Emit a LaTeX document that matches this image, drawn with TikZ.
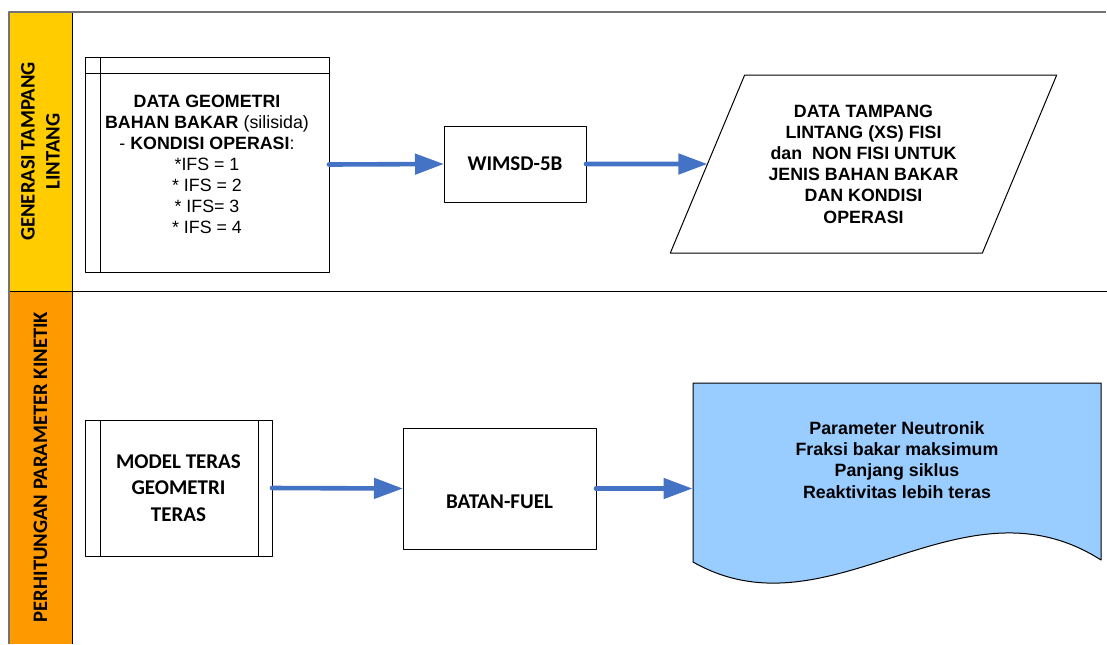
\documentclass[tikz,border=0pt]{standalone}
\usepackage{fontspec}
\setmainfont{Liberation Sans}
\newfontfamily\calibfont{Carlito}
\usetikzlibrary{arrows.meta,shapes.geometric}
\definecolor{laneyellow}{RGB}{255,204,0}
\definecolor{laneorange}{RGB}{255,153,0}
\definecolor{flowblue}{RGB}{68,114,196}
\definecolor{docblue}{RGB}{153,204,255}
\begin{document}
\begin{tikzpicture}[x=0.5pt,y=-0.5pt,line join=round,
	box/.style={draw,line width=0.5pt,inner sep=0pt,outer sep=0pt,align=center},
	arial/.style={font=\fontsize{8.9}{10.5}\selectfont},
	arialb/.style={font=\bfseries\fontsize{8.9}{10.6}\selectfont},
	calib/.style={font=\calibfont\bfseries\fontsize{10.5}{13.3}\selectfont},
	lanetext/.style={rotate=90,align=center,font=\calibfont\bfseries\fontsize{10.3}{12.5}\selectfont},
	flow/.style={draw=flowblue,line width=2.3pt,line cap=round,-{Triangle[length=14.5pt,width=10pt]}}]
	\useasboundingbox (0,0) rectangle (1107,644);
	% lanes
	\fill[laneyellow] (9,12) rectangle (72,291);
	\fill[laneorange] (9,291) rectangle (72,644);
	\draw[line width=0.5pt] (72,12) -- (72,644);
	\draw[line width=0.5pt] (9,291) -- (1107,291);
	\draw[black!55,line width=1pt] (1106,12) -- (9,12) -- (9,644);
	\node[lanetext] (lanexs) at (40.5,151.5) {GENERASI TAMPANG\\LINTANG};
	\node[lanetext] (lanekin) at (40.5,467) {PERHITUNGAN PARAMETER KINETIK};
	% top lane
	\node[box,arial,minimum width=122pt,minimum height=107.5pt] (geo) at (207,164.5)
		{\textbf{DATA GEOMETRI}\\\textbf{BAHAN BAKAR} (silisida)\\- \textbf{KONDISI OPERASI}:\\{*}IFS = 1\\{*} IFS = 2\\{*} IFS= 3\\{*} IFS = 4};
	\draw[line width=0.5pt] ([xshift=7.5pt]geo.north west) -- ([xshift=7.5pt]geo.south west);
	\draw[line width=0.5pt] ([yshift=-8pt]geo.north west) -- ([yshift=-8pt]geo.north east);
	\node[box,calib,minimum width=71pt,minimum height=38pt] (wims) at (515,164) {WIMSD-5B};
	\node[box,arialb,shape=trapezium,trapezium left angle=63.4,trapezium right angle=116.6,
		trapezium stretches=true,minimum width=193.5pt,minimum height=89pt] (xsdata) at (863.5,164)
		{DATA TAMPANG\\LINTANG (XS) FISI\\dan~~NON FISI UNTUK\\JENIS BAHAN BAKAR\\DAN KONDISI\\OPERASI};
	\draw[flow] (geo.east) -- (wims.west);
	\draw[flow] (wims.east) -- (xsdata.west);
	% bottom lane
	\node[box,calib,minimum width=93.5pt,minimum height=68pt] (model) at (178.5,488)
		{MODEL TERAS\\GEOMETRI\\TERAS};
	\draw[line width=0.5pt] ([xshift=7.5pt]model.north west) -- ([xshift=7.5pt]model.south west);
	\draw[line width=0.5pt] ([xshift=-7pt]model.north east) -- ([xshift=-7pt]model.south east);
	\node[box,calib,minimum width=96.5pt,minimum height=60.5pt] (batan) at (499.5,488.5)
		{\raisebox{-6.75pt}[\height][\depth]{BATAN-FUEL}};
	\filldraw[fill=docblue,draw=black,line width=0.5pt] (693,383) -- (1101,383) -- (1101,560)
		.. controls (960,470) and (830,640) .. (693,562) -- cycle;
	\node[arialb,align=center,inner sep=0pt,minimum width=204pt,minimum height=77pt] (neutronik) at (897,460)
		{Parameter Neutronik\\Fraksi bakar maksimum\\Panjang siklus\\Reaktivitas lebih teras};
	\draw[flow] (model.east) -- (batan.west);
	\draw[flow] (batan.east) -- (batan.east -| neutronik.west);
\end{tikzpicture}
\end{document}
